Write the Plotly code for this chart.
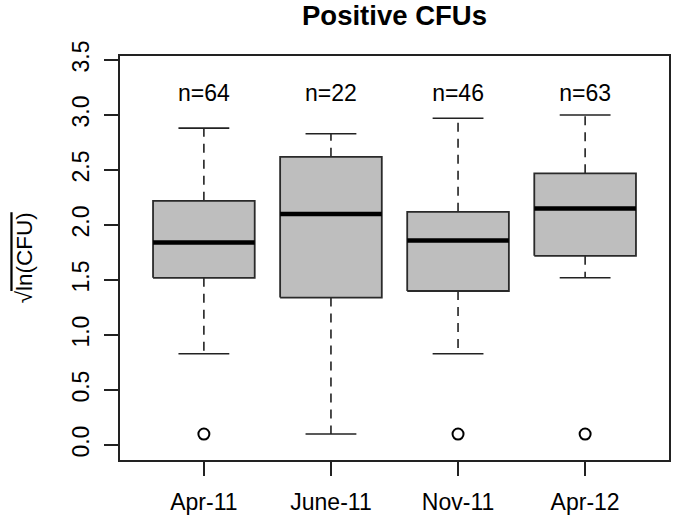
import plotly.graph_objects as go

# ---- data ----
categories = ["Apr-11", "June-11", "Nov-11", "Apr-12"]
n_counts = [64, 22, 46, 63]
whisker_low = [0.83, 0.10, 0.83, 1.52]
q1 = [1.52, 1.34, 1.40, 1.72]
median = [1.84, 2.10, 1.86, 2.15]
q3 = [2.22, 2.62, 2.12, 2.47]
whisker_high = [2.88, 2.83, 2.97, 3.00]
outliers = [[0.10], [], [0.10], [0.10]]
y_tick_vals = [0.0, 0.5, 1.0, 1.5, 2.0, 2.5, 3.0, 3.5]
n_label_y = 3.18

FONT = "Liberation Sans, Arial, sans-serif"
half_box = 0.4
half_cap = 0.2

box_x, box_y = [], []
med_x, med_y = [], []
wh_x, wh_y = [], []
cap_x, cap_y = [], []
out_x, out_y = [], []
for i in range(len(categories)):
    c = i + 1
    box_x += [c - half_box, c + half_box, c + half_box, c - half_box, c - half_box, None]
    box_y += [q1[i], q1[i], q3[i], q3[i], q1[i], None]
    med_x += [c - half_box, c + half_box, None]
    med_y += [median[i], median[i], None]
    wh_x += [c, c, None, c, c, None]
    wh_y += [q3[i], whisker_high[i], None, q1[i], whisker_low[i], None]
    cap_x += [c - half_cap, c + half_cap, None, c - half_cap, c + half_cap, None]
    cap_y += [whisker_high[i], whisker_high[i], None, whisker_low[i], whisker_low[i], None]
    for o in outliers[i]:
        out_x.append(c)
        out_y.append(o)

fig = go.Figure()
fig.add_trace(go.Scatter(x=wh_x, y=wh_y, mode="lines",
                         line=dict(color="#222", width=1.6, dash="9px,7px"),
                         hoverinfo="skip", showlegend=False))
fig.add_trace(go.Scatter(x=cap_x, y=cap_y, mode="lines",
                         line=dict(color="#222", width=1.6),
                         hoverinfo="skip", showlegend=False))
fig.add_trace(go.Scatter(x=box_x, y=box_y, mode="lines", fill="toself",
                         fillcolor="#bebebe", line=dict(color="#2a2a2a", width=1.8),
                         hoverinfo="skip", showlegend=False))
fig.add_trace(go.Scatter(x=med_x, y=med_y, mode="lines",
                         line=dict(color="black", width=4.5),
                         hoverinfo="skip", showlegend=False))
fig.add_trace(go.Scatter(x=out_x, y=out_y, mode="markers",
                         marker=dict(symbol="circle-open", size=11, color="black",
                                     line=dict(width=2, color="black")),
                         hoverinfo="skip", showlegend=False))
fig.add_trace(go.Scatter(x=list(range(1, len(categories) + 1)),
                         y=[n_label_y] * len(categories),
                         mode="text", text=[f"n={n}" for n in n_counts],
                         textposition="middle center",
                         textfont=dict(family=FONT, size=23, color="black"),
                         hoverinfo="skip", showlegend=False))

fig.update_layout(
    width=675, height=519,
    margin=dict(l=120, r=4, t=56, b=59),
    paper_bgcolor="white", plot_bgcolor="white",
    font=dict(family=FONT, size=23, color="black"),
    title=dict(text="<b>Positive CFUs</b>", x=0.5, xref="paper", xanchor="center",
               y=1 - 15 / 519, yref="container", yanchor="middle",
               font=dict(family=FONT, size=27.5, color="black")),
    showlegend=False,
    hovermode=False,
)
fig.update_xaxes(range=[0.34, 4.66], tickvals=list(range(1, len(categories) + 1)),
                 ticktext=categories, ticks="outside", ticklen=14, tickwidth=1.6,
                 tickcolor="#222", showline=True, linecolor="#222", linewidth=1.8,
                 ticklabelstandoff=6,
                 mirror=True, showgrid=False, zeroline=False,
                 tickfont=dict(family=FONT, size=23, color="black"))
fig.update_yaxes(range=[-0.136, 3.536], tickvals=y_tick_vals,
                 ticktext=[f"{v:.1f}" for v in y_tick_vals], tickangle=-90,
                 ticks="outside", ticklen=14, tickwidth=1.6, tickcolor="#222",
                 ticklabelstandoff=6,
                 showline=True, linecolor="#222", linewidth=1.8, mirror=True,
                 showgrid=False, zeroline=False,
                 tickfont=dict(family=FONT, size=23, color="black"))
fig.add_annotation(text="√<span style='text-decoration:overline'>ln(CFU)</span>",
                   xref="paper", yref="paper", x=-(120 - 24) / 551, y=0.5,
                   xanchor="center", yanchor="middle", textangle=-90, showarrow=False,
                   font=dict(family=FONT, size=22.5, color="black"))

fig.write_html("out.html", config={"displayModeBar": False},
               post_script="document.body.style.margin='0';document.body.style.padding='0';")
